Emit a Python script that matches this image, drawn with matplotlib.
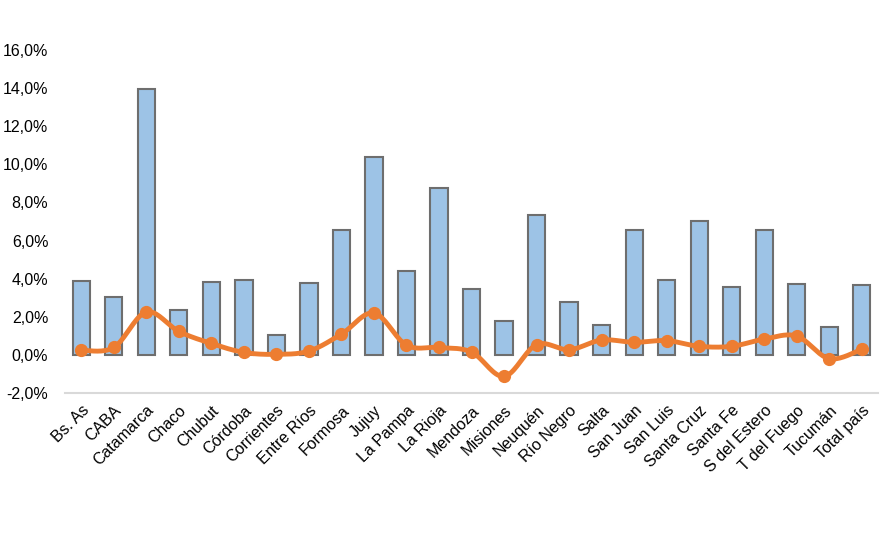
import matplotlib
matplotlib.use("Agg")
import matplotlib.pyplot as plt
import numpy as np
from matplotlib.ticker import FuncFormatter

plt.rcParams['font.family'] = ['Liberation Sans', 'DejaVu Sans']

provincias = ["Bs. As", "CABA", "Catamarca", "Chaco", "Chubut", "Córdoba", "Corrientes",
              "Entre Ríos", "Formosa", "Jujuy", "La Pampa", "La Rioja", "Mendoza", "Misiones",
              "Neuquén", "Río Negro", "Salta", "San Juan", "San Luis", "Santa Cruz", "Santa Fe",
              "S del Estero", "T del Fuego", "Tucumán", "Total país"]
barras = [3.86, 3.02, 13.94, 2.34, 3.81, 3.91, 1.02, 3.75, 6.55, 10.37, 4.40, 8.74, 3.44,
          1.76, 7.34, 2.76, 1.55, 6.54, 3.91, 7.01, 3.54, 6.54, 3.70, 1.44, 3.65]
linea = [0.24, 0.39, 2.25, 1.23, 0.60, 0.13, 0.03, 0.20, 1.09, 2.20, 0.51, 0.39, 0.15,
         -1.13, 0.54, 0.27, 0.78, 0.66, 0.75, 0.45, 0.45, 0.83, 0.99, -0.20, 0.29]


def suavizar(x, y, n=20):
    # curva tipo Catmull-Rom, como la linea suavizada de Excel
    x = np.asarray(x, float)
    y = np.asarray(y, float)
    px = np.concatenate([[x[0]], x, [x[-1]]])
    py = np.concatenate([[y[0]], y, [y[-1]]])
    xs, ys = [], []
    t = np.linspace(0, 1, n, endpoint=False)
    for i in range(1, len(px) - 2):
        p0, p1, p2, p3 = py[i - 1], py[i], py[i + 1], py[i + 2]
        q0, q1, q2, q3 = px[i - 1], px[i], px[i + 1], px[i + 2]
        # bezier con tangentes /6
        c1y = p1 + (p2 - p0) / 6
        c2y = p2 - (p3 - p1) / 6
        c1x = q1 + (q2 - q0) / 6
        c2x = q2 - (q3 - q1) / 6
        bx = (1 - t)**3 * q1 + 3 * (1 - t)**2 * t * c1x + 3 * (1 - t) * t**2 * c2x + t**3 * q2
        by = (1 - t)**3 * p1 + 3 * (1 - t)**2 * t * c1y + 3 * (1 - t) * t**2 * c2y + t**3 * p2
        xs.extend(bx)
        ys.extend(by)
    xs.append(x[-1])
    ys.append(y[-1])
    return np.array(xs), np.array(ys)


fig = plt.figure(figsize=(8.86, 5.47), dpi=100)
ax = fig.add_axes([0.0734, 0.2815, 0.9176, 0.6271])

x = np.arange(len(provincias))
ax.bar(x, barras, width=0.53, color="#9DC3E6", edgecolor="#6E6E6E", linewidth=1.5, zorder=2)

sx, sy = suavizar(x, linea)
ax.plot(sx, sy, color="#ED7D31", linewidth=3.5, zorder=3, solid_capstyle="round")
ax.plot(x, linea, "o", color="#ED7D31", markersize=8.5, zorder=4)

ax.set_xlim(-0.5, len(provincias) - 0.5)
ax.set_ylim(-2, 16)
ax.set_yticks(np.arange(-2, 17, 2))
ax.yaxis.set_major_formatter(FuncFormatter(lambda v, p: ("%.1f%%" % v).replace(".", ",")))
ax.set_xticks(x)
ax.set_xticklabels(provincias, rotation=45, ha="right", rotation_mode="anchor")

for s in ["top", "right", "left"]:
    ax.spines[s].set_visible(False)
ax.spines["bottom"].set_color("#D9D9D9")
ax.spines["bottom"].set_linewidth(1.5)
ax.tick_params(axis="both", length=0, labelsize=11.5, colors="black")
ax.tick_params(axis="y", pad=12)
ax.tick_params(axis="x", pad=7)

fig.savefig("out.png", dpi=100)
